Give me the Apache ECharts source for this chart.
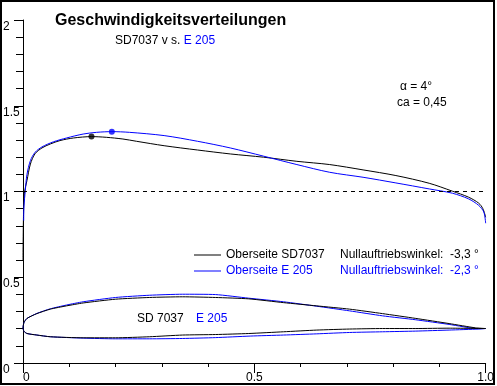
<!DOCTYPE html>
<html>
<head>
<meta charset="utf-8">
<script src="https://cdn.jsdelivr.net/npm/echarts@6/dist/echarts.min.js"></script>
<style>html,body{margin:0;padding:0;background:#fff}#c{width:497px;height:386px}</style>
</head>
<body>
<div id="c"></div>
<script>
// Velocity distribution, upper side SD7037
var sd7037X = [0, 0.001, 0.003, 0.0086, 0.016, 0.026, 0.041, 0.059, 0.08, 0.109, 0.148, 0.18, 0.216, 0.245, 0.305, 0.377, 0.448, 0.52, 0.592, 0.663, 0.735, 0.806, 0.878, 0.928, 0.963, 0.985, 0.994, 1.0];
var sd7037V = [0.6, 0.85, 0.99, 1.064, 1.16, 1.22, 1.254, 1.277, 1.297, 1.312, 1.32, 1.316, 1.306, 1.293, 1.267, 1.242, 1.219, 1.2, 1.176, 1.157, 1.126, 1.093, 1.048, 1.002, 0.967, 0.932, 0.9, 0.85];
// Velocity distribution, upper side E 205
var e205X = [0.0015, 0.002, 0.005, 0.0086, 0.016, 0.026, 0.041, 0.066, 0.094, 0.13, 0.159, 0.192, 0.23, 0.305, 0.377, 0.448, 0.52, 0.592, 0.663, 0.735, 0.806, 0.878, 0.928, 0.963, 0.985, 0.996, 1.0];
var e205V = [0.83, 0.91, 1.006, 1.1, 1.18, 1.228, 1.26, 1.29, 1.312, 1.335, 1.345, 1.349, 1.345, 1.326, 1.293, 1.254, 1.206, 1.157, 1.112, 1.083, 1.05, 1.015, 0.99, 0.957, 0.919, 0.88, 0.815];
// Maximum points
var sd7037Max = [0.148, 1.32];
var e205Max = [0.192, 1.349];
// Airfoil contours (TE upper -> LE -> TE lower), plotted shifted
var sd7037FoilX = [1.0, 0.978, 0.921, 0.849, 0.777, 0.706, 0.635, 0.563, 0.488, 0.416, 0.345, 0.273, 0.2, 0.13, 0.094, 0.059, 0.03, 0.0086, 0.002, 0, 0.002, 0.0086, 0.03, 0.059, 0.13, 0.2, 0.273, 0.345, 0.416, 0.488, 0.563, 0.635, 0.706, 0.777, 0.849, 0.921, 1.0];
var sd7037FoilY = [0.201, 0.205, 0.23, 0.26, 0.288, 0.314, 0.333, 0.352, 0.374, 0.382, 0.386, 0.382, 0.372, 0.35, 0.333, 0.314, 0.288, 0.26, 0.235, 0.205, 0.185, 0.172, 0.163, 0.153, 0.147, 0.147, 0.153, 0.163, 0.166, 0.172, 0.182, 0.192, 0.198, 0.201, 0.201, 0.203, 0.201];
var e205FoilX = [1.0, 0.985, 0.921, 0.849, 0.777, 0.706, 0.635, 0.563, 0.488, 0.416, 0.345, 0.273, 0.2, 0.13, 0.094, 0.059, 0.03, 0.0086, 0.002, 0, 0.002, 0.0086, 0.03, 0.059, 0.13, 0.2, 0.273, 0.345, 0.416, 0.491, 0.563, 0.635, 0.706, 0.777, 0.849, 0.921, 0.985, 1.0];
var e205FoilY = [0.201, 0.2, 0.225, 0.252, 0.275, 0.304, 0.331, 0.357, 0.378, 0.399, 0.401, 0.395, 0.382, 0.357, 0.338, 0.316, 0.289, 0.26, 0.235, 0.205, 0.185, 0.172, 0.163, 0.153, 0.145, 0.141, 0.141, 0.143, 0.148, 0.157, 0.163, 0.17, 0.178, 0.182, 0.186, 0.192, 0.198, 0.201];

var seriesNames = ['Oberseite SD7037', 'Oberseite E 205'];
var zeroLift = ['-3,3 °', '-2,3 °'];
var xTickLabels = {0: '0', 0.5: '0.5', 1: '1.0'};

function pairs(xs, ys) { return xs.map(function (x, i) { return [x, ys[i]]; }); }

var FONT = '"Liberation Sans", Arial, sans-serif';
var BLACK = '#000000', BLUE = '#0000ff';

var chart = echarts.init(document.getElementById('c'), null, {renderer: 'canvas'});
chart.setOption({
  animation: false,
  textStyle: {fontFamily: FONT},
  title: [
    {text: 'Geschwindigkeitsverteilungen', left: 50, top: 8,
     textStyle: {fontSize: 16, fontWeight: 'bold', color: BLACK, fontFamily: FONT}},
    {text: '{a|SD7037 v s. }{b|E 205}', left: 110, top: 30,
     textStyle: {fontSize: 12, fontWeight: 'normal', fontFamily: FONT, rich: {
       a: {color: BLACK, fontSize: 12, fontWeight: 'normal', fontFamily: FONT},
       b: {color: BLUE, fontSize: 12, fontWeight: 'normal', fontFamily: FONT}}}}
  ],
  legend: {
    orient: 'vertical', left: 189, top: 243, itemGap: 2,
    icon: 'rect', itemWidth: 27, itemHeight: 1,
    data: [
      {name: seriesNames[0], textStyle: {color: BLACK}},
      {name: seriesNames[1], textStyle: {color: BLUE}}
    ],
    textStyle: {fontSize: 12, lineHeight: 14, fontFamily: FONT,
      rich: {n: {width: 114, fontSize: 12, fontFamily: FONT}, w: {fontSize: 12, fontFamily: FONT}}},
    formatter: function (name) {
      var i = seriesNames.indexOf(name);
      return '{n|' + name + '}{w|Nullauftriebswinkel:  ' + zeroLift[i] + '}';
    }
  },
  grid: {left: 21, top: 20, width: 466, height: 343},
  xAxis: {
    type: 'value', min: 0, max: 1, interval: 0.5,
    axisLine: {lineStyle: {color: BLACK, width: 1}},
    axisTick: {show: true, length: 10, lineStyle: {color: BLACK}},
    minorTick: {show: true, splitNumber: 5, length: 4, lineStyle: {color: BLACK}},
    splitLine: {show: false},
    axisLabel: {color: BLACK, fontSize: 12, margin: 9, alignMinLabel: 'left',
      formatter: function (v) { return xTickLabels[v] !== undefined ? xTickLabels[v] : ''; }}
  },
  yAxis: {
    type: 'value', min: 0, max: 2, interval: 0.5,
    axisLine: {show: true, lineStyle: {color: BLACK, width: 1}},
    axisTick: {show: true, length: 9, lineStyle: {color: BLACK}},
    minorTick: {show: true, splitNumber: 5, length: 7, lineStyle: {color: BLACK}},
    splitLine: {show: false},
    axisLabel: {color: BLACK, fontSize: 12, margin: 20, align: 'left', verticalAlign: 'top', lineHeight: 13}
  },
  series: [
    {name: seriesNames[0], type: 'line', data: pairs(sd7037X, sd7037V), smooth: 0.3,
     showSymbol: false, symbol: 'none', color: BLACK, lineStyle: {width: 1, color: BLACK},
     markLine: {silent: true, symbol: ['none', 'none'], label: {show: false},
       lineStyle: {type: [4, 4], color: BLACK, width: 1}, data: [{yAxis: 1}]}},
    {name: seriesNames[1], type: 'line', data: pairs(e205X, e205V), smooth: 0.3,
     showSymbol: false, symbol: 'none', color: BLUE, lineStyle: {width: 1, color: BLUE}},
    {name: 'max SD7037', type: 'scatter', data: [sd7037Max], symbolSize: 6, itemStyle: {color: BLACK}, silent: true},
    {name: 'max E 205', type: 'scatter', data: [e205Max], symbolSize: 6, itemStyle: {color: BLUE}, silent: true},
    {name: 'SD 7037', type: 'line', data: pairs(sd7037FoilX, sd7037FoilY), smooth: 0.2,
     showSymbol: false, symbol: 'none', color: BLACK, lineStyle: {width: 1, color: BLACK}, silent: true},
    {name: 'E 205', type: 'line', data: pairs(e205FoilX, e205FoilY), smooth: 0.2,
     showSymbol: false, symbol: 'none', color: BLUE, lineStyle: {width: 1, color: BLUE}, silent: true, z: 1}
  ],
  graphic: [
    {type: 'rect', shape: {x: 1, y: 1, width: 493, height: 383}, style: {fill: 'none', stroke: BLACK, lineWidth: 2}, silent: true},
    {type: 'text', left: 400, top: 81, style: {text: 'α = 4°', font: '12px ' + FONT, fill: BLACK}},
    {type: 'text', left: 397, top: 97, style: {text: 'ca = 0,45', font: '12px ' + FONT, fill: BLACK}},
    {type: 'text', left: 137, top: 313, style: {text: 'SD 7037', font: '12px ' + FONT, fill: BLACK}},
    {type: 'text', left: 196, top: 313, style: {text: 'E 205', font: '12px ' + FONT, fill: BLUE}}
  ]
});
</script>
</body>
</html>
